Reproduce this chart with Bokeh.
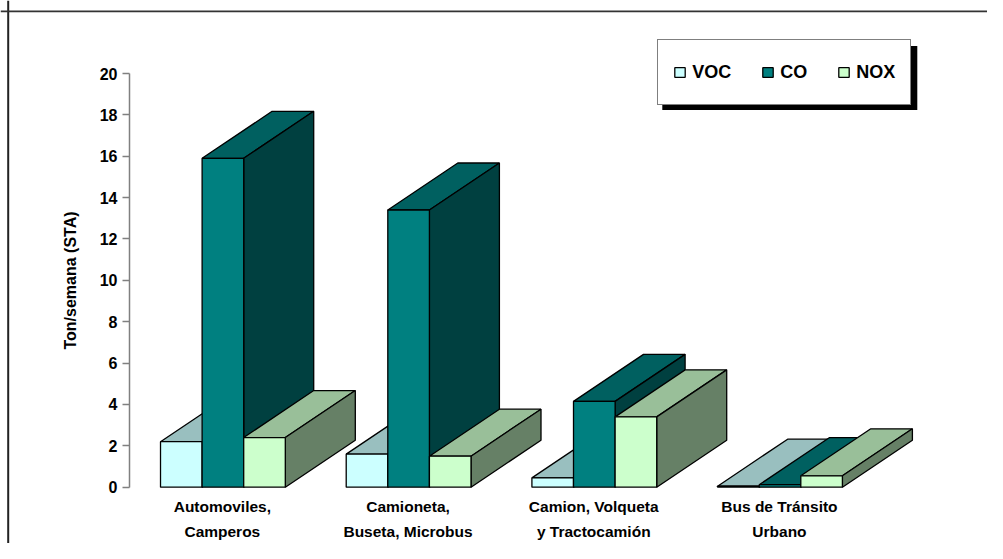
from bokeh.plotting import figure
from bokeh.models import (LinearAxis, FixedTicker, Range1d, Span, BoxAnnotation,
                          Legend, LegendItem, ColumnDataSource)
from bokeh.embed import file_html
from bokeh.resources import INLINE

# ---------------- data ----------------
categories = ["Automoviles,\nCamperos",
              "Camioneta,\nBuseta, Microbus",
              "Camion, Volqueta\ny Tractocamión",
              "Bus de Tránsito\nUrbano"]
series_names = ["VOC", "CO", "NOX"]
voc = [2.2, 1.6, 0.45, 0.05]
co = [15.9, 13.4, 4.15, 0.12]
nox = [2.4, 1.5, 3.4, 0.55]
y_ticks = [0, 2, 4, 6, 8, 10, 12, 14, 16, 18, 20]
y_title = "Ton/semana (STA)"

front_colors = ["#CCFFFF", "#008080", "#CCFFCC"]
top_colors = ["#99BFBF", "#006060", "#99BF99"]
side_colors = ["#668080", "#004040", "#668066"]

# ---------------- geometry (styling) ----------------
W, H = 987, 543
PX_PER_CAT = 185.7
AXIS_X = 129.0
PX_PER_UNIT = 20.685
ZERO_Y = 486.7
x_start = -AXIS_X / PX_PER_CAT
x_end = (W - AXIS_X) / PX_PER_CAT
y_start = -(H - ZERO_Y) / PX_PER_UNIT
y_end = ZERO_Y / PX_PER_UNIT

def dx(px):
    return px / PX_PER_CAT

def dy(px):
    return px / PX_PER_UNIT

DEPTH_X = dx(70)
DEPTH_Y = dy(47)
BAR_W = 0.224
OFFSET = 0.5 - 1.5 * BAR_W + 0.003

p = figure(width=W, height=H, output_backend="svg", toolbar_location=None,
           x_range=Range1d(x_start, x_end), y_range=Range1d(y_start, y_end),
           x_axis_type=None, y_axis_type=None, min_border=0)
p.outline_line_color = None
p.xgrid.visible = False
p.ygrid.visible = False
p.background_fill_color = "white"
p.border_fill_color = "white"

# ---------------- 3D bars ----------------
xs, ys, fills = [], [], []
front_index = {}
all_vals = [voc, co, nox]
for i in range(len(categories)):
    for s, vals in enumerate(all_vals):
        v = vals[i]
        x0 = i + OFFSET + s * BAR_W
        x1 = x0 + BAR_W
        # top face
        xs.append([x0, x1, x1 + DEPTH_X, x0 + DEPTH_X])
        ys.append([v, v, v + DEPTH_Y, v + DEPTH_Y])
        fills.append(top_colors[s])
        # side face
        xs.append([x1, x1 + DEPTH_X, x1 + DEPTH_X, x1])
        ys.append([0, DEPTH_Y, v + DEPTH_Y, v])
        fills.append(side_colors[s])
        # front face
        xs.append([x0, x1, x1, x0])
        ys.append([0, 0, v, v])
        fills.append(front_colors[s])
        if i == 0:
            front_index[s] = len(xs) - 1

src = ColumnDataSource(dict(xs=xs, ys=ys, fill=fills))
r = p.patches("xs", "ys", source=src, fill_color="fill", line_color="black",
              line_width=1.3)

# ---------------- axes ----------------
FONT = "Liberation Sans"
yaxis = LinearAxis(fixed_location=0, bounds=(0, 20), ticker=FixedTicker(ticks=y_ticks),
                   axis_label=y_title)
yaxis.axis_line_color = "#808080"
yaxis.axis_line_width = 1.5
yaxis.major_tick_line_color = "#808080"
yaxis.major_tick_line_width = 1.5
yaxis.major_tick_out = 7
yaxis.major_tick_in = 0
yaxis.minor_tick_line_color = None
yaxis.major_label_text_font = FONT
yaxis.major_label_text_font_size = "16px"
yaxis.major_label_text_font_style = "bold"
yaxis.major_label_text_color = "black"
yaxis.major_label_standoff = 5
yaxis.axis_label_text_font = FONT
yaxis.axis_label_text_font_size = "16px"
yaxis.axis_label_text_font_style = "bold"
yaxis.axis_label_text_color = "black"
yaxis.axis_label_standoff = 18
p.add_layout(yaxis, "left")

cat_ticks = [i + 0.5 for i in range(len(categories))]
xaxis = LinearAxis(fixed_location=0, ticker=FixedTicker(ticks=cat_ticks),
                   major_label_overrides={t: c for t, c in zip(cat_ticks, categories)})
xaxis.axis_line_color = None
xaxis.major_tick_line_color = None
xaxis.minor_tick_line_color = None
xaxis.major_label_text_font = FONT
xaxis.major_label_text_font_size = "15.5px"
xaxis.major_label_text_font_style = "bold"
xaxis.major_label_text_color = "black"
xaxis.major_label_standoff = 5
xaxis.major_label_text_line_height = 1.45
p.add_layout(xaxis, "below")

# ---------------- outer chart border (left & top) ----------------
p.add_layout(Span(location=x_start + dx(7.7), dimension="height",
                  line_color="#222222", line_width=2))
p.add_layout(Span(location=y_end - dy(10.85), dimension="width",
                  line_color="#333333", line_width=1.7))

# ---------------- legend with shadow ----------------
LEG_L, LEG_T, LEG_R, LEG_B = 657.3, 41.0, 912.3, 105.0
p.add_layout(BoxAnnotation(left=x_start + dx(LEG_L + 4.5), right=x_start + dx(LEG_R + 4.5),
                           top=y_end - dy(LEG_T + 4.5), bottom=y_end - dy(LEG_B + 4.5),
                           fill_color="black", fill_alpha=1, line_color=None))

legend = Legend(items=[LegendItem(label=n, renderers=[r], index=front_index[k])
                       for k, n in enumerate(series_names)],
                orientation="horizontal", location=(LEG_L, H - LEG_B))
legend.margin = 0
legend.padding = 15
legend.spacing = 30
legend.label_standoff = 6
legend.glyph_width = 13
legend.glyph_height = 12
legend.label_height = 34
legend.label_text_font = FONT
legend.label_text_font_size = "18px"
legend.label_text_font_style = "bold"
legend.label_text_color = "black"
legend.border_line_color = "black"
legend.border_line_width = 1
legend.background_fill_color = "white"
legend.background_fill_alpha = 1
p.add_layout(legend, "center")

open("out.html", "w").write(file_html(p, INLINE))
